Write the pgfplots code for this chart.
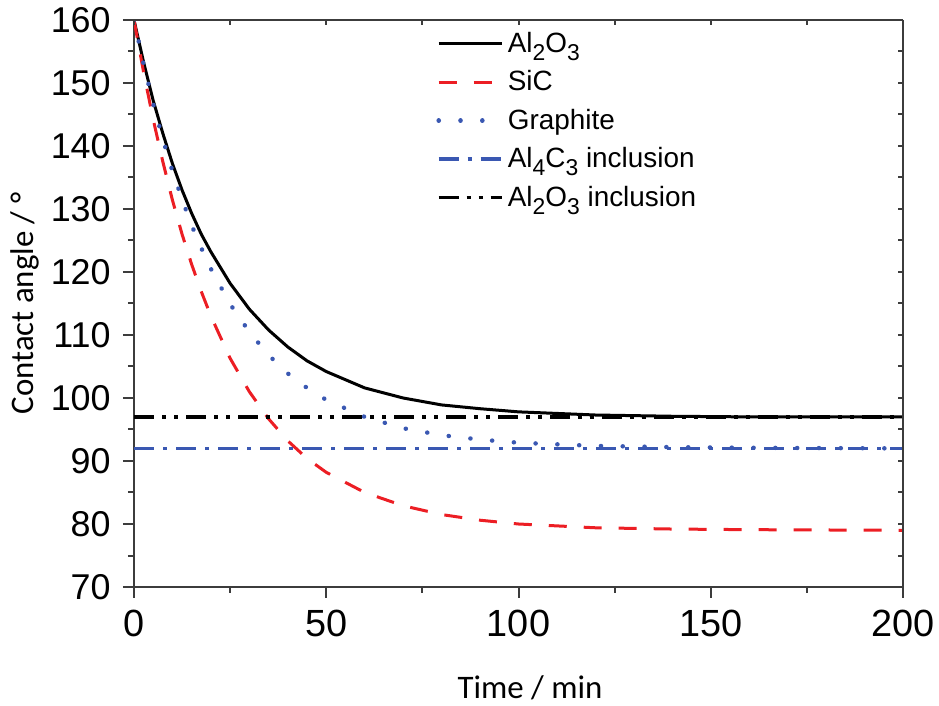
\documentclass[border=0pt]{standalone}
\usepackage{fontspec}
\setmainfont{Liberation Sans}
\newfontfamily\calibri{Carlito}
\usepackage{pgfplots}
\pgfplotsset{compat=1.18}
\definecolor{sicred}{RGB}{236,30,36}
\definecolor{gblue}{RGB}{58,88,178}
\definecolor{axgray}{RGB}{60,60,60}
\newcommand\sub[1]{\raisebox{-0.55ex}{\fontsize{11.5}{12}\selectfont #1}}
\begin{document}
\begin{tikzpicture}
\begin{axis}[
  name=main,
  scale only axis, width=384.5bp, height=283.5bp,
  xmin=0, xmax=200, ymin=70, ymax=160,
  axis x line*=bottom, axis y line*=left,
  axis line style={axgray, line width=1bp, -},
  xtick={0,50,...,200}, minor xtick={25,75,125,175},
  ytick={70,80,...,160}, minor ytick={75,85,...,155},
  tick align=outside, major tick length=5.5bp, minor tick length=3bp,
  every tick/.style={axgray, line width=1bp},
  /pgf/number format/assume math mode=true,
  xticklabel style={font=\fontsize{19}{21}\selectfont, inner sep=1bp, yshift=-5bp},
  yticklabel style={font=\fontsize{18}{20}\selectfont, inner sep=1bp, xshift=-5bp},
  xlabel={Time / min}, ylabel={Contact angle / °},
  label style={font=\calibri\fontsize{16.5}{19}\selectfont, inner sep=1bp},
  xlabel style={at={(axis description cs:0.515,-0.178)}, anchor=center},
  ylabel style={at={(axis description cs:-0.142,0.5)}, anchor=center},
  legend style={at={(axis description cs:0.385,0.993)}, anchor=north west,
    draw=none, fill=none, font=\fontsize{14}{16}\selectfont, row sep=3.6bp},
  legend cell align=left,
  legend image code/.code={\draw[#1] (0bp,0bp) -- (31.5bp,0bp);},
]
\addplot[black, line width=1.5bp] coordinates {
 (0,160)(2.5,153.3)(5,147.2)(7.5,142)(10,137.2)(12.5,133)(15,129.3)(17.5,126)(20,123.2)
 (25,118.2)(30,114.1)(35,110.8)(40,108.1)(45,105.9)(50,104.2)(60,101.6)(70,100.0)
 (80,98.9)(90,98.3)(100,97.8)(120,97.3)(140,97.1)(160,97.0)(200,97.0)};
\addlegendentry{Al\sub{2}O\sub{3}}
\addplot[sicred, line width=1.5bp, dash pattern=on 9bp off 8.5bp] coordinates {
 (0,160)(2.5,151.7)(5,144.2)(7.5,137.5)(10,131.4)(12.5,126.0)(15,121.2)(17.5,116.9)(20,113.0)
 (25,106.3)(30,101.0)(35,96.7)(40,93.2)(45,90.4)(50,88.2)(60,85.0)(70,82.9)
 (80,81.5)(90,80.6)(100,80.0)(120,79.4)(140,79.2)(160,79.1)(200,79.0)};
\addlegendentry{SiC}
\addplot[gblue, line width=2.2bp, line cap=round, dash pattern=on 0.1bp off 10.8bp] coordinates {
 (0,160)(2.5,153.0)(5,146.7)(7.5,141.1)(10,136.0)(12.5,131.5)(15,127.4)(17.5,123.8)(20,120.5)
 (25,114.9)(30,110.5)(35,106.8)(40,103.9)(45,101.6)(50,99.7)(60,97.0)(70,95.2)
 (80,94.1)(90,93.4)(100,92.9)(120,92.4)(140,92.2)(160,92.1)(200,92.0)};
\addlegendentry{Graphite}
\addplot[gblue, line width=1.8bp, dash pattern=on 10bp off 4.5bp on 2bp off 4.5bp] coordinates {
 (0,92)(200,92)};
\addlegendentry{Al\sub{4}C\sub{3} inclusion}
\addplot[black, line width=1.7bp, dash pattern=on 10bp off 4bp on 2bp off 4bp on 2bp off 4bp] coordinates {
 (0,97)(200,97)};
\addlegendentry{Al\sub{2}O\sub{3} inclusion}
\end{axis}
\begin{axis}[
  scale only axis, width=384.5bp, height=283.5bp,
  xmin=0, xmax=200, ymin=70, ymax=160,
  axis x line*=top, axis y line*=right,
  axis line style={axgray, line width=1bp, -},
  xtick={0,25,...,200}, ytick={70,75,...,160},
  xticklabels={}, yticklabels={},
  tick align=inside, major tick length=2.5bp,
  every tick/.style={axgray, line width=1bp},
]
\end{axis}
\path (main.south west) ++(-67bp,-59.5bp) rectangle ++(469.5bp,353bp);
\end{tikzpicture}
\end{document}
